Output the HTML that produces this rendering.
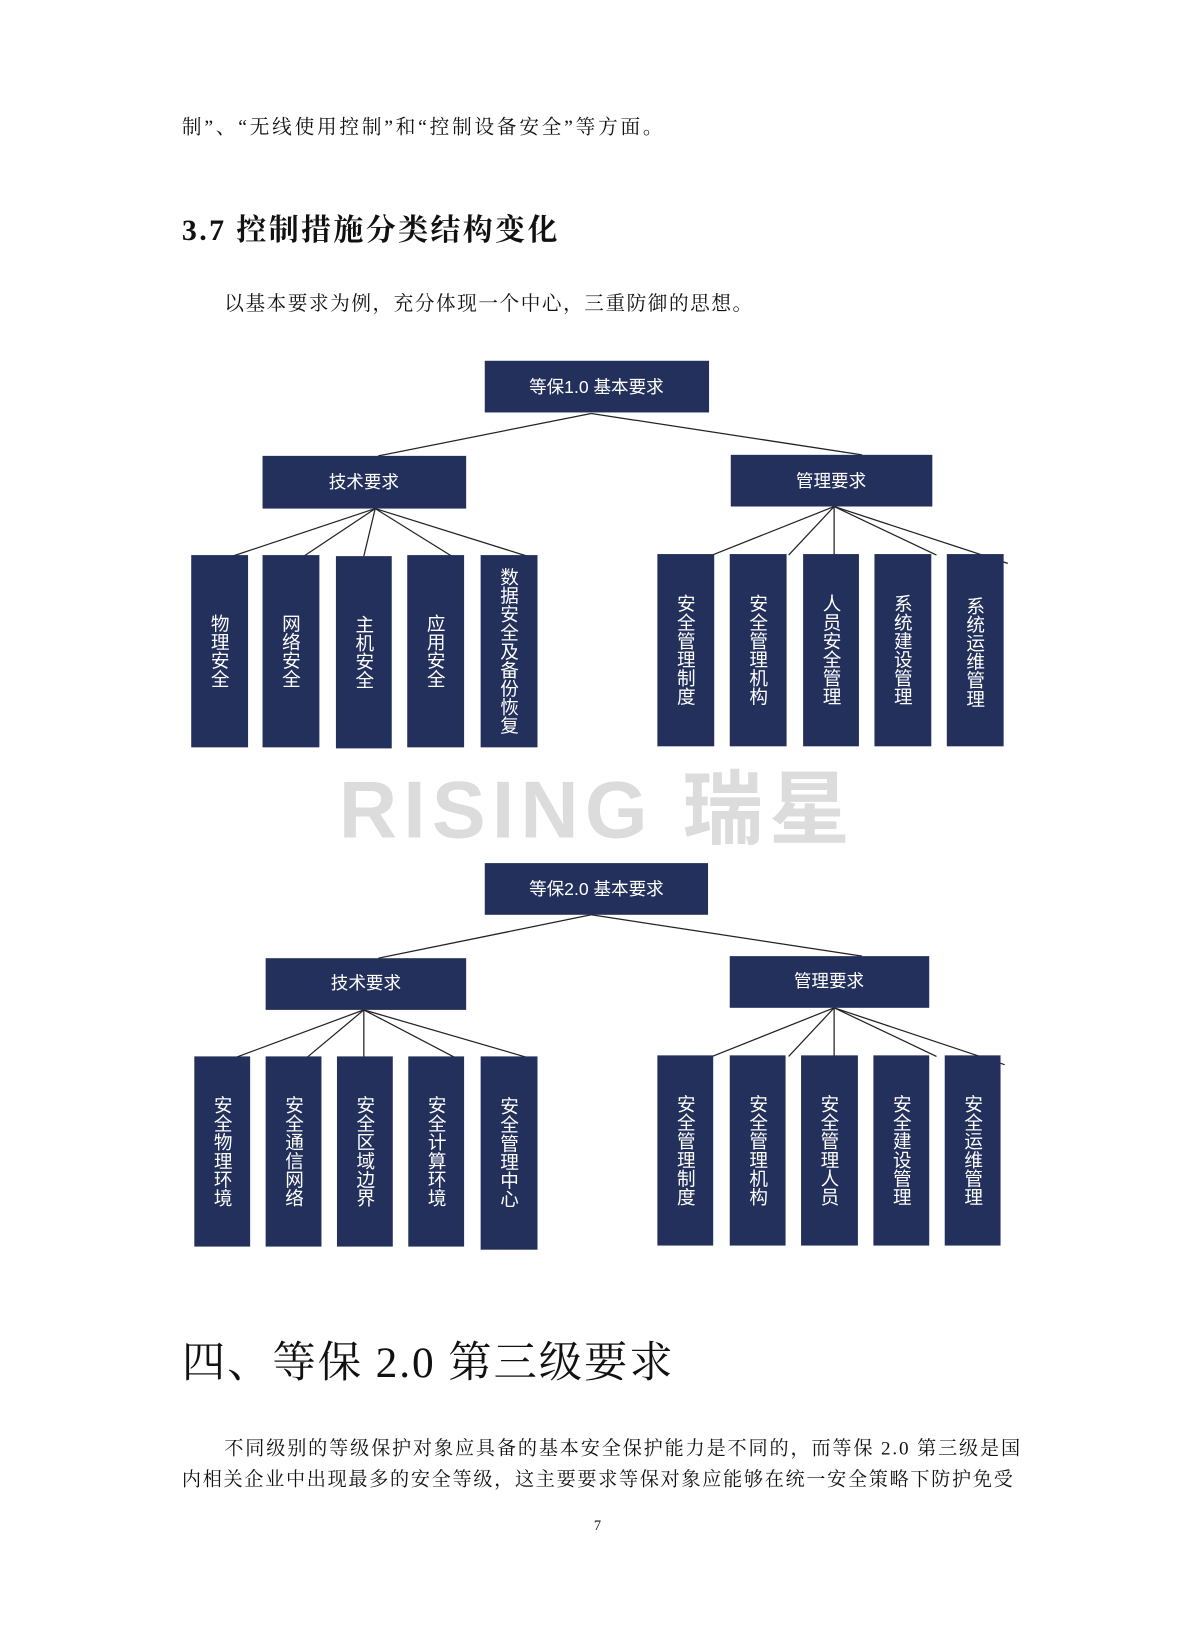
<!DOCTYPE html>
<html><head><meta charset="utf-8">
<style>
html,body{margin:0;padding:0;background:#fff;}
svg{display:block;}
text{font-family:"Liberation Serif","Noto Serif CJK SC","Noto Sans CJK SC",serif;}
.s{font-family:"Liberation Sans","Noto Sans CJK SC",sans-serif;fill:#fff;}
</style></head><body>
<svg width="1199" height="1627" viewBox="0 0 1160 1574" xmlns="http://www.w3.org/2000/svg">
<rect width="1199" height="1627" fill="#fff"/>
<text x="176" y="129" font-size="19" fill="#111" letter-spacing="2.7">制”、“无线使用控制”和“控制设备安全”等方面。</text>
<text x="176" y="232" font-size="29" fill="#111" font-weight="bold" letter-spacing="2.3">3.7 控制措施分类结构变化</text>
<text x="217" y="300" font-size="19" fill="#111" letter-spacing="1.5">以基本要求为例，充分体现一个中心，三重防御的思想。</text>

<text x="578" y="810" font-size="78" font-weight="bold" fill="#dcdcdc" text-anchor="middle" style="font-family:'Liberation Sans','Noto Sans CJK SC',sans-serif;letter-spacing:6px">RISING 瑞星</text>

<g stroke="#222" stroke-width="1.2" fill="none">
<line x1="572" y1="400" x2="366" y2="441"/><line x1="572" y1="400" x2="834" y2="440"/>
<line x1="363" y1="492" x2="225" y2="538"/><line x1="363" y1="492" x2="294" y2="538"/><line x1="363" y1="492" x2="352" y2="538"/><line x1="363" y1="492" x2="437" y2="538"/><line x1="363" y1="492" x2="510" y2="538"/>
<line x1="807" y1="490" x2="689" y2="537"/><line x1="807" y1="490" x2="763" y2="537"/><line x1="807" y1="490" x2="807" y2="537"/><line x1="807" y1="490" x2="906" y2="537"/><line x1="807" y1="490" x2="975" y2="545"/>
<line x1="572" y1="885" x2="366" y2="927"/><line x1="572" y1="885" x2="834" y2="925"/>
<line x1="352" y1="977" x2="228" y2="1023"/><line x1="352" y1="977" x2="297" y2="1023"/><line x1="352" y1="977" x2="352" y2="1023"/><line x1="352" y1="977" x2="440" y2="1023"/><line x1="352" y1="977" x2="510" y2="1023"/>
<line x1="807" y1="975" x2="689" y2="1022"/><line x1="807" y1="975" x2="763" y2="1022"/><line x1="807" y1="975" x2="807" y2="1022"/><line x1="807" y1="975" x2="906" y2="1022"/><line x1="807" y1="975" x2="972" y2="1030"/>
</g>

<g fill="#22305b">
<rect x="469" y="349" width="217" height="50"/>
<rect x="254" y="441" width="197" height="51"/>
<rect x="707" y="440" width="195" height="50"/>
<rect x="185" y="537" width="55" height="186"/><rect x="254" y="537" width="55" height="186"/><rect x="325" y="538" width="54" height="186"/><rect x="394" y="537" width="55" height="186"/><rect x="465" y="537" width="55" height="186"/>
<rect x="636" y="536" width="55" height="186"/><rect x="706" y="536" width="55" height="186"/><rect x="777" y="536" width="54" height="186"/><rect x="846" y="536" width="55" height="186"/><rect x="916" y="536" width="55" height="186"/>
<rect x="469" y="835" width="216" height="50"/>
<rect x="257" y="927" width="194" height="50"/>
<rect x="706" y="925" width="193" height="50"/>
<rect x="188" y="1022" width="54" height="184"/><rect x="257" y="1022" width="54" height="184"/><rect x="326" y="1022" width="54" height="184"/><rect x="395" y="1022" width="54" height="184"/><rect x="465" y="1022" width="55" height="187"/>
<rect x="636" y="1021" width="54" height="184"/><rect x="706" y="1021" width="54" height="184"/><rect x="775" y="1021" width="55" height="184"/><rect x="845" y="1021" width="54" height="184"/><rect x="914" y="1021" width="54" height="184"/>
</g>

<g class="s" font-size="17" text-anchor="middle">
<text class="s" x="577" y="380">等保1.0 基本要求</text>
<text class="s" x="352" y="472">技术要求</text>
<text class="s" x="804" y="471">管理要求</text>
<text class="s" x="577" y="866">等保2.0 基本要求</text>
<text class="s" x="354" y="957">技术要求</text>
<text class="s" x="802" y="955">管理要求</text>
</g>

<g class="s" font-size="18">
<text class="s" x="212" y="630" style="writing-mode:vertical-rl;text-anchor:middle">物理安全</text>
<text class="s" x="281" y="630" style="writing-mode:vertical-rl;text-anchor:middle">网络安全</text>
<text class="s" x="352" y="631" style="writing-mode:vertical-rl;text-anchor:middle">主机安全</text>
<text class="s" x="421" y="630" style="writing-mode:vertical-rl;text-anchor:middle">应用安全</text>
<text class="s" x="492" y="630" style="writing-mode:vertical-rl;text-anchor:middle">数据安全及备份恢复</text>
<text class="s" x="663" y="629" style="writing-mode:vertical-rl;text-anchor:middle">安全管理制度</text>
<text class="s" x="733" y="629" style="writing-mode:vertical-rl;text-anchor:middle">安全管理机构</text>
<text class="s" x="804" y="629" style="writing-mode:vertical-rl;text-anchor:middle">人员安全管理</text>
<text class="s" x="873" y="629" style="writing-mode:vertical-rl;text-anchor:middle">系统建设管理</text>
<text class="s" x="943" y="631" style="writing-mode:vertical-rl;text-anchor:middle">系统运维管理</text>
<text class="s" x="215" y="1114" style="writing-mode:vertical-rl;text-anchor:middle">安全物理环境</text>
<text class="s" x="284" y="1114" style="writing-mode:vertical-rl;text-anchor:middle">安全通信网络</text>
<text class="s" x="353" y="1114" style="writing-mode:vertical-rl;text-anchor:middle">安全区域边界</text>
<text class="s" x="422" y="1114" style="writing-mode:vertical-rl;text-anchor:middle">安全计算环境</text>
<text class="s" x="492" y="1115" style="writing-mode:vertical-rl;text-anchor:middle">安全管理中心</text>
<text class="s" x="663" y="1113" style="writing-mode:vertical-rl;text-anchor:middle">安全管理制度</text>
<text class="s" x="733" y="1113" style="writing-mode:vertical-rl;text-anchor:middle">安全管理机构</text>
<text class="s" x="802" y="1113" style="writing-mode:vertical-rl;text-anchor:middle">安全管理人员</text>
<text class="s" x="872" y="1113" style="writing-mode:vertical-rl;text-anchor:middle">安全建设管理</text>
<text class="s" x="941" y="1113" style="writing-mode:vertical-rl;text-anchor:middle">安全运维管理</text>
</g>

<text x="176" y="1332" font-size="42" fill="#111" letter-spacing="1.8">四、等保 2.0 第三级要求</text>
<text x="217" y="1407" font-size="18.5" fill="#111" letter-spacing="1.8">不同级别的等级保护对象应具备的基本安全保护能力是不同的，而等保 2.0 第三级是国</text>
<text x="176" y="1437" font-size="18.5" fill="#111" letter-spacing="1.65">内相关企业中出现最多的安全等级，这主要要求等保对象应能够在统一安全策略下防护免受</text>
<text x="578" y="1480" font-size="14" fill="#111" text-anchor="middle">7</text>
</svg>
</body></html>
